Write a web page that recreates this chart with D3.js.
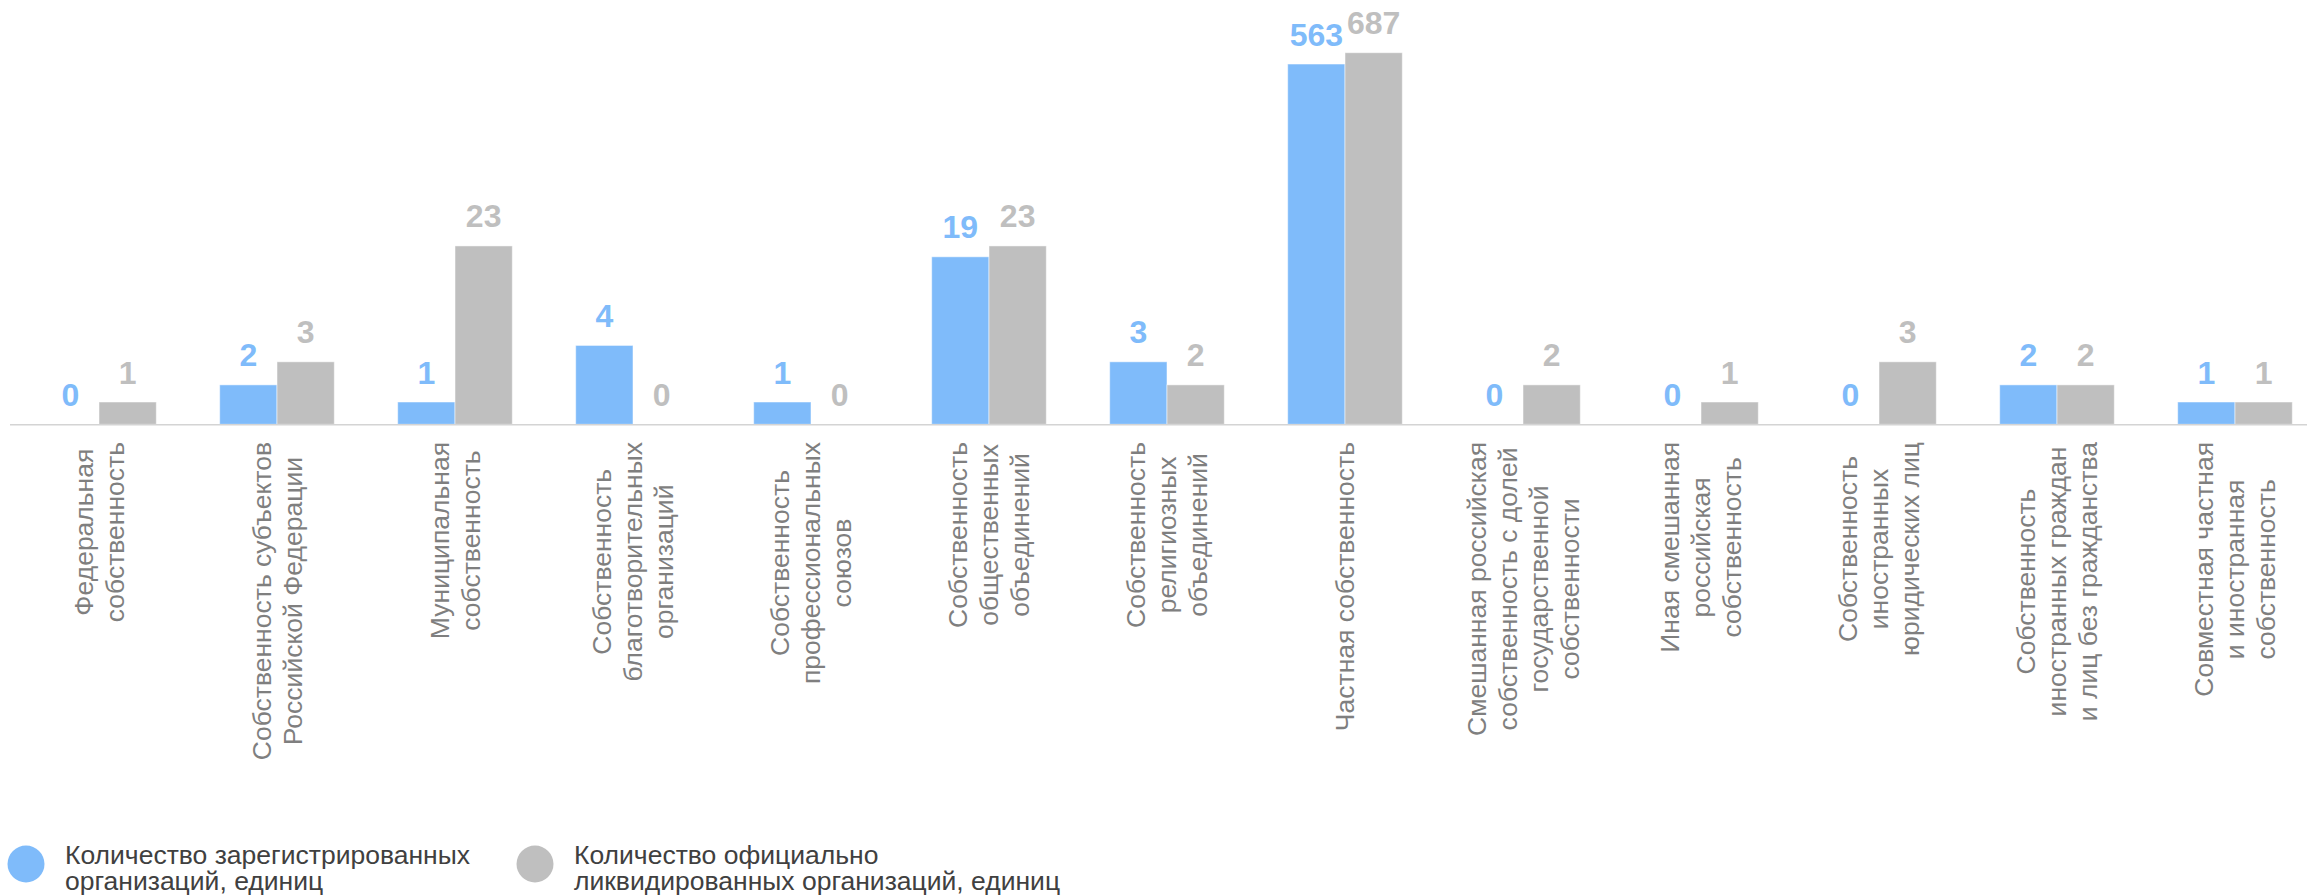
<!DOCTYPE html>
<html>
<head>
<meta charset="utf-8">
<script src="https://cdn.jsdelivr.net/npm/d3@7"></script>
<style>
  body { margin: 0; background: #fff; }
  svg { display: block; font-family: "Liberation Sans", Arial, sans-serif; }
</style>
</head>
<body>
<script>
// categories (label lines)
var categories = [
    ["Федеральная", "собственность"],
    ["Собственность субъектов", "Российской Федерации"],
    ["Муниципальная", "собственность"],
    ["Собственность", "благотворительных", "организаций"],
    ["Собственность", "профессиональных", "союзов"],
    ["Собственность", "общественных", "объединений"],
    ["Собственность", "религиозных", "объединений"],
    ["Частная собственность"],
    ["Смешанная российская", "собственность с долей", "государственной", "собственности"],
    ["Иная смешанная", "российская", "собственность"],
    ["Собственность", "иностранных", "юридических лиц"],
    ["Собственность", "иностранных граждан", "и лиц без гражданства"],
    ["Совместная частная", "и иностранная", "собственность"]
];
var registered = [0, 2, 1, 4, 1, 19, 3, 563, 0, 0, 0, 2, 1];
var liquidated = [1, 3, 23, 0, 0, 23, 2, 687, 2, 1, 3, 2, 1];
var seriesNames = [
    ["Количество зарегистрированных", "организаций, единиц"],
    ["Количество официально", "ликвидированных организаций, единиц"]
];
var seriesColors = ["#7fbbfa", "#bfbfbf"];

window.onload = drawChart;

function drawChart(){
    var width = 2307,
        height = 896,
        baseY = 424.3,
        topY = 52.7,
        minBar = 22.3;

    var svg = d3.select("body")
        .append("svg")
        .attr("width", width)
        .attr("height", height);

    var idx = d3.range(categories.length);

    //outer band per category, inner band per series
    var x0 = d3.scaleBand()
        .domain(idx)
        .range([10, 2324])
        .padding(0);
    var x1 = d3.scaleBand()
        .domain([0, 1])
        .range([0, x0.bandwidth()])
        .paddingInner(0)
        .paddingOuter(0.553);

    //log axis, value 1 sits on the baseline
    var y = d3.scaleLog()
        .domain([1, 687])
        .range([baseY, topY]);

    function barTop(v){
        if (v <= 0) return baseY;
        return Math.min(y(v), baseY - minBar);
    }

    var rows = idx.map(function(i){
        return [registered[i], liquidated[i]].map(function(v, k){ return {v: v, k: k}; });
    });

    var groups = svg.selectAll(".grp")
        .data(rows)
        .enter()
        .append("g")
        .attr("class", "grp")
        .attr("transform", function(d, i){ return "translate(" + x0(i) + ",0)"; });

    groups.selectAll("rect")
        .data(function(d){ return d.filter(function(e){ return e.v > 0; }); })
        .enter()
        .append("rect")
        .attr("x", function(d){ return x1(d.k); })
        .attr("y", function(d){ return barTop(d.v); })
        .attr("width", x1.bandwidth())
        .attr("height", function(d){ return baseY - barTop(d.v); })
        .attr("fill", function(d){ return seriesColors[d.k]; })
        .attr("stroke", "#fff")
        .attr("stroke-opacity", 0.5)
        .attr("stroke-width", 1);

    groups.selectAll(".val")
        .data(function(d){ return d; })
        .enter()
        .append("text")
        .attr("class", "val")
        .attr("x", function(d){ return x1(d.k) + x1.bandwidth() / 2; })
        .attr("y", function(d){ return barTop(d.v) - 18.5; })
        .attr("text-anchor", "middle")
        .attr("font-size", "32px")
        .attr("font-weight", "bold")
        .attr("fill", function(d){ return seriesColors[d.k]; })
        .text(function(d){ return d.v; });

    //baseline
    svg.append("line")
        .attr("x1", 10)
        .attr("x2", width)
        .attr("y1", baseY + 0.5)
        .attr("y2", baseY + 0.5)
        .attr("stroke", "#d4d4d4")
        .attr("stroke-width", 1.5);

    //rotated category labels, lines centred on the longest one
    var lineH = 31,
        labTop = 442;
    idx.forEach(function(i){
        var lines = categories[i];
        var cx = x0(i) + x0.bandwidth() / 2;
        var g = svg.append("g")
            .attr("transform", "translate(" + cx + "," + labTop + ") rotate(-90)");
        var texts = g.selectAll("text")
            .data(lines)
            .enter()
            .append("text")
            .attr("y", function(d, j){ return (j - (lines.length - 1) / 2) * lineH; })
            .attr("dy", "0.35em")
            .attr("text-anchor", "middle")
            .attr("font-size", "26.5px")
            .attr("fill", "#7f7f7f")
            .text(function(d){ return d; });
        var maxLen = d3.max(texts.nodes(), function(n){ return n.getComputedTextLength(); });
        texts.attr("x", -maxLen / 2);
    });

    //legend
    var legX = [26, 535];
    var leg = svg.selectAll(".leg")
        .data(seriesNames)
        .enter()
        .append("g")
        .attr("class", "leg")
        .attr("transform", function(d, k){ return "translate(" + legX[k] + ",864)"; });
    leg.append("circle")
        .attr("r", 18.5)
        .attr("fill", function(d, k){ return seriesColors[k]; });
    leg.selectAll("text")
        .data(function(d){ return d; })
        .enter()
        .append("text")
        .attr("x", 39)
        .attr("y", function(d, j){ return j * 25.5; })
        .attr("font-size", "26.5px")
        .attr("fill", "#404040")
        .text(function(d){ return d; });
}
</script>
</body>
</html>
